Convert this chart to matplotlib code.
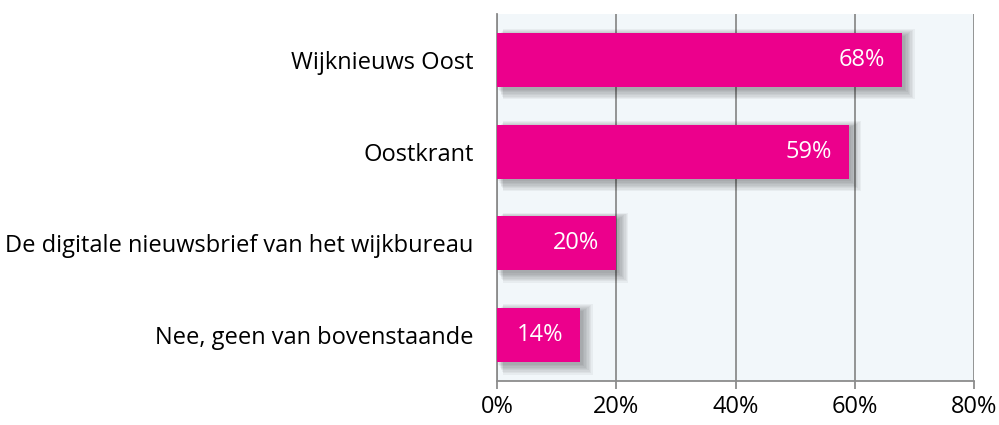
import matplotlib
matplotlib.use("Agg")
import matplotlib.pyplot as plt
from matplotlib.patches import Rectangle

categories = ["Wijknieuws Oost", "Oostkrant", "De digitale nieuwsbrief van het wijkbureau", "Nee, geen van bovenstaande"]
values = [68, 59, 20, 14]
xticks = [0, 20, 40, 60, 80]
xtick_labels = ["0%", "20%", "40%", "60%", "80%"]

plt.rcParams['font.family'] = ['Open Sans', 'DejaVu Sans']

W, H = 999, 425
fig = plt.figure(figsize=(W/100, H/100), dpi=100)
ax = fig.add_axes([497/W, 1-381/H, (974-497)/W, (381-14)/H])
ax.set_facecolor("#F2F7FA")

n = len(categories)
ypos = list(range(n))
bh = 0.59
ax.set_xlim(0, 80)
ax.set_ylim(n - 0.5, -0.5)

# soft shadows
for y, v in zip(ypos, values):
    for k in range(8):
        off = 0.3 + k*0.15
        ax.add_patch(Rectangle((off*0.8, y - bh/2 + 0.03 - k*0.01), v + off*0.7, bh + k*0.025,
                               facecolor="black", alpha=0.045, edgecolor="none", zorder=2))

ax.barh(ypos, values, height=bh, color="#EC008C", zorder=3)

for y, v in zip(ypos, values):
    ax.text(v - 2.9, y, f"{v}%", ha="right", va="center", color="white", fontsize=17, zorder=4)

ax.set_xticks(xticks)
ax.set_xticklabels(xtick_labels, fontsize=17)
ax.set_yticks(ypos)
ax.set_yticklabels(categories, fontsize=17)
ax.tick_params(axis="y", length=0, pad=17)
ax.tick_params(axis="x", length=6, color="#8C8C8C", width=1.3, pad=4, direction="out")
ax.xaxis.grid(True, color="#8C8C8C", linewidth=1.3, zorder=1)
ax.set_axisbelow(True)
for s in ["top", "right"]:
    ax.spines[s].set_visible(False)
for s in ["left", "bottom"]:
    ax.spines[s].set_color("#8C8C8C")
    ax.spines[s].set_linewidth(1.3)

fig.savefig("out.png", dpi=100)
